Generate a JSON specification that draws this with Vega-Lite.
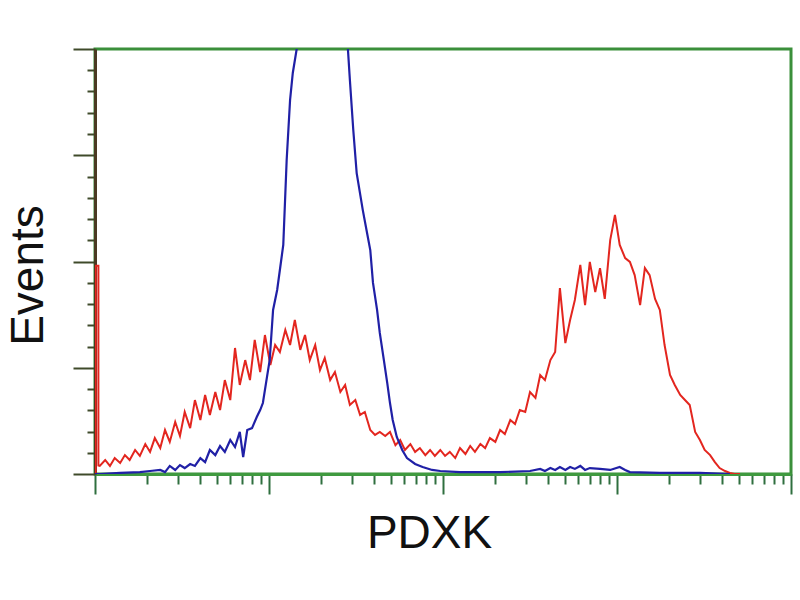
{
  "$schema": "https://vega.github.io/schema/vega-lite/v6.json",
  "width": 696,
  "height": 425,
  "autosize": {"type": "none"},
  "padding": {"left": 95, "top": 49, "right": 9, "bottom": 126},
  "background": "white",
  "config": {
    "view": {"stroke": "#3b8f3b", "strokeWidth": 3},
    "axis": {"grid": false, "labels": false}
  },
  "datasets": {
    "pdxk": [
      {"ch":1,"n":0},{"ch":1,"n":98},{"ch":5,"n":98},{"ch":5,"n":4},{"ch":7,"n":3.8},
      {"ch":15,"n":6.6},{"ch":22,"n":3.8},{"ch":29,"n":7.5},{"ch":37,"n":5.2},{"ch":44,"n":8.9},{"ch":51,"n":6.6},{"ch":59,"n":11.3},{"ch":66,"n":8.5},{"ch":74,"n":14.1},{"ch":81,"n":10.4},{"ch":88,"n":16.9},{"ch":96,"n":12.2},{"ch":103,"n":20.7},{"ch":110,"n":15.1},{"ch":118,"n":24.5},{"ch":125,"n":17.9},{"ch":132,"n":29.2},{"ch":140,"n":21.6},{"ch":147,"n":34.8},{"ch":155,"n":25.4},{"ch":162,"n":37.2},{"ch":169,"n":27.8},{"ch":177,"n":38.6},{"ch":184,"n":30.1},{"ch":191,"n":44.2},{"ch":199,"n":34.8},{"ch":206,"n":59.3},{"ch":213,"n":41.9},{"ch":221,"n":53.6},{"ch":228,"n":44.2},{"ch":235,"n":63.1},{"ch":243,"n":48},{"ch":250,"n":65.4},{"ch":258,"n":51.3},{"ch":265,"n":60.7},{"ch":272,"n":57.4},{"ch":280,"n":67.8},{"ch":287,"n":60.7},{"ch":294,"n":72.5},{"ch":302,"n":58.4},{"ch":309,"n":65.4},{"ch":316,"n":53.6},{"ch":324,"n":60.7},{"ch":331,"n":48.9},{"ch":338,"n":54.6},{"ch":346,"n":44.2},{"ch":353,"n":48},{"ch":361,"n":38.6},{"ch":368,"n":41.9},{"ch":375,"n":32.5},{"ch":383,"n":34.8},{"ch":390,"n":27.8},{"ch":397,"n":29.2},{"ch":405,"n":20.7},{"ch":412,"n":18.4},{"ch":419,"n":19.8},{"ch":427,"n":17.9},{"ch":434,"n":19.8},{"ch":442,"n":13.6},{"ch":449,"n":16},{"ch":456,"n":11.3},{"ch":464,"n":14.1},{"ch":471,"n":10.4},{"ch":478,"n":12.2},{"ch":486,"n":8.9},{"ch":493,"n":11.3},{"ch":500,"n":8.5},{"ch":508,"n":11.3},{"ch":515,"n":8.5},{"ch":522,"n":10.4},{"ch":530,"n":7.5},{"ch":537,"n":12.2},{"ch":545,"n":9.4},{"ch":552,"n":13.2},{"ch":559,"n":10.4},{"ch":567,"n":14.1},{"ch":574,"n":12.2},{"ch":581,"n":16.9},{"ch":589,"n":15.1},{"ch":596,"n":20.7},{"ch":603,"n":18.8},{"ch":611,"n":25.4},{"ch":618,"n":23.5},{"ch":625,"n":30.1},{"ch":633,"n":29.2},{"ch":640,"n":38.6},{"ch":648,"n":35.8},{"ch":655,"n":46.6},{"ch":662,"n":44.2},{"ch":670,"n":53.6},{"ch":677,"n":57.4},{"ch":684,"n":87.5},{"ch":692,"n":61.6},{"ch":699,"n":72.5},{"ch":706,"n":81.9},{"ch":714,"n":98.4},{"ch":721,"n":79.5},{"ch":728,"n":99.8},{"ch":736,"n":85.6},{"ch":743,"n":96.9},{"ch":750,"n":82.4},{"ch":758,"n":110.1},{"ch":765,"n":121.9},{"ch":772,"n":107.8},{"ch":780,"n":101.6},{"ch":787,"n":99.8},{"ch":794,"n":93.6},{"ch":802,"n":79.5},{"ch":809,"n":96.9},{"ch":816,"n":93.6},{"ch":824,"n":82.4},{"ch":831,"n":77.2},{"ch":838,"n":60.7},{"ch":846,"n":46.6},{"ch":853,"n":41.9},{"ch":861,"n":37.2},{"ch":868,"n":34.8},{"ch":875,"n":32.5},{"ch":883,"n":19.8},{"ch":890,"n":16},{"ch":897,"n":11.3},{"ch":905,"n":8.9},{"ch":912,"n":5.6},{"ch":919,"n":2.8},{"ch":927,"n":1.4},{"ch":934,"n":0.5},{"ch":941,"n":0},{"ch":949,"n":0}
    ],
    "control": [
      {"ch":0,"n":0},{"ch":7,"n":0},{"ch":37,"n":0.5},{"ch":66,"n":0.9},{"ch":81,"n":1.4},{"ch":96,"n":1.9},{"ch":103,"n":0.9},{"ch":110,"n":3.8},{"ch":118,"n":1.9},{"ch":125,"n":4.2},{"ch":132,"n":2.8},{"ch":140,"n":4.7},{"ch":147,"n":3.8},{"ch":155,"n":7.5},{"ch":162,"n":5.6},{"ch":169,"n":11.3},{"ch":177,"n":8.9},{"ch":184,"n":13.2},{"ch":191,"n":10.4},{"ch":199,"n":16},{"ch":206,"n":12.7},{"ch":213,"n":19.8},{"ch":218,"n":8},{"ch":224,"n":20.7},{"ch":231,"n":21.6},{"ch":238,"n":26.8},{"ch":243,"n":30.1},{"ch":247,"n":33.4},{"ch":253,"n":45.6},{"ch":257,"n":53.6},{"ch":262,"n":77.2},{"ch":268,"n":86.6},{"ch":272,"n":96},{"ch":277,"n":107.8},{"ch":282,"n":147.8},{"ch":287,"n":176},{"ch":291,"n":188.7},{"ch":297,"n":200.5},{"ch":316,"n":260},{"ch":331,"n":280},{"ch":353,"n":265},{"ch":372,"n":200.5},{"ch":375,"n":185.4},{"ch":380,"n":161.9},{"ch":385,"n":141.6},{"ch":394,"n":124.2},{"ch":400,"n":113.9},{"ch":405,"n":105.4},{"ch":409,"n":89.9},{"ch":415,"n":77.2},{"ch":419,"n":66.4},{"ch":425,"n":53.6},{"ch":430,"n":42.8},{"ch":434,"n":33.4},{"ch":438,"n":25.4},{"ch":444,"n":17.4},{"ch":452,"n":11.3},{"ch":459,"n":7.5},{"ch":471,"n":4.7},{"ch":482,"n":3.3},{"ch":496,"n":1.9},{"ch":508,"n":1.4},{"ch":537,"n":0.9},{"ch":596,"n":0.9},{"ch":640,"n":1.4},{"ch":655,"n":2.4},{"ch":662,"n":1.4},{"ch":670,"n":2.8},{"ch":677,"n":1.9},{"ch":684,"n":3.3},{"ch":692,"n":1.9},{"ch":699,"n":3.3},{"ch":706,"n":2.4},{"ch":714,"n":3.8},{"ch":721,"n":1.9},{"ch":728,"n":2.8},{"ch":743,"n":2.4},{"ch":758,"n":1.9},{"ch":772,"n":3.3},{"ch":780,"n":1.9},{"ch":787,"n":0.9},{"ch":831,"n":0.5},{"ch":890,"n":0.5},{"ch":934,"n":0}
    ]
  },
  "layer": [
    {
      "data": {"name": "pdxk"},
      "mark": {"type": "line", "color": "#e3261f", "strokeWidth": 2, "clip": true},
      "encoding": {
        "x": {
          "field": "ch", "type": "quantitative",
          "scale": {"domain": [0, 1024], "nice": false, "zero": false},
          "axis": {
            "title": "PDXK",
            "values": [0,77.1,122.1,154.1,178.9,199.2,216.3,231.2,244.3,256,333.1,378.1,410.1,434.9,455.2,472.3,487.2,500.3,512,589.1,634.1,666.1,690.9,711.2,728.3,743.2,756.3,768,845.1,890.1,922.1,946.9,967.2,984.3,999.2,1012.3,1024],
            "tickCount": 1000,
            "labels": false,
            "domainColor": "#3f9a3f", "domainWidth": 3,
            "tickColor": "#2f6f3f", "tickWidth": 2,
            "tickSize": {"condition": {"test": "datum.value % 256 === 0", "value": 20}, "value": 10},
            "titleFont": "Liberation Sans", "titleFontSize": 46, "titleFontWeight": "normal", "titleColor": "#111111",
            "titlePadding": 16, "titleX": 334
          }
        },
        "y": {
          "field": "n", "type": "quantitative",
          "scale": {"domain": [0, 200], "nice": false},
          "axis": {
            "title": "Events",
            "values": [0,10,20,30,40,50,60,70,80,90,100,110,120,130,140,150,160,170,180,190,200],
            "tickCount": 1000,
            "labels": false,
            "domainColor": "#4a3a22", "domainWidth": 3,
            "tickColor": "#3f4a2a", "tickWidth": 2,
            "tickSize": {"condition": {"test": "datum.value % 50 === 0", "value": 22}, "value": 8},
            "titleFont": "Liberation Sans", "titleFontSize": 46, "titleFontWeight": "normal", "titleColor": "#111111",
            "titlePadding": 20, "titleY": 226
          }
        }
      }
    },
    {
      "data": {"name": "control"},
      "mark": {"type": "line", "color": "#2020a6", "strokeWidth": 2.2, "clip": true},
      "encoding": {
        "x": {"field": "ch", "type": "quantitative"},
        "y": {"field": "n", "type": "quantitative"}
      }
    }
  ]
}
